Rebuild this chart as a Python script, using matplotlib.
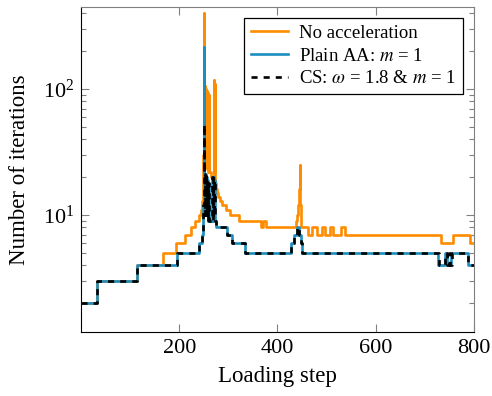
import numpy as np
import matplotlib
matplotlib.use("Agg")
import matplotlib.pyplot as plt
from matplotlib.ticker import LogLocator, NullFormatter, FixedLocator

# loading step at which the iteration count changes, and the new count (step function)
noacc_steps = [0, 32, 114, 166, 194, 212, 224, 232, 240, 244, 246, 248, 249, 250, 251,
               252, 253, 254, 255, 256, 257, 258, 259, 260, 261, 264, 268, 270, 271, 272,
               273, 275, 277, 279, 282, 287, 295, 304, 322, 366, 371, 376, 437, 440, 442,
               444, 445, 446, 447, 462, 470, 480, 490, 497, 507, 513, 530, 538, 732, 757,
               791, 800]
noacc_iters = [2, 3, 4, 5, 6, 7, 8, 9, 10, 11, 13, 18, 30, 400, 30,
               105, 25, 100, 24, 97, 23, 93, 22, 90, 22, 20, 19, 118, 22, 110,
               18, 16, 15, 14, 13, 12, 11, 10, 9, 8, 9, 8, 9, 10, 12,
               16, 25, 12, 8, 7, 8, 7, 8, 7, 8, 7, 8, 7, 6, 7,
               6, 6]

aa_steps = [0, 32, 114, 195, 241, 247, 248, 249, 250, 251, 252, 253, 254, 255, 256,
            257, 258, 259, 260, 267, 268, 269, 270, 271, 272, 274, 297, 307, 334, 428,
            434, 440, 444, 447, 450, 726, 740, 746, 754, 787, 800]
aa_iters = [2, 3, 4, 5, 6, 7, 8, 12, 215, 21, 10, 21, 10, 20, 10,
            19, 9, 18, 9, 20, 9, 20, 10, 19, 9, 8, 7, 6, 5, 6,
            7, 8, 7, 6, 5, 4, 5, 4, 5, 4, 4]

cs_steps = [0, 32, 114, 195, 241, 247, 248, 249, 250, 251, 252, 253, 254, 255, 256,
            257, 258, 259, 260, 267, 268, 269, 270, 271, 272, 274, 297, 307, 334, 428,
            434, 440, 444, 447, 450, 728, 742, 745, 750, 752, 756, 787, 800]
cs_iters = [2, 3, 4, 5, 6, 7, 8, 12, 53, 21, 10, 21, 10, 20, 10,
            19, 9, 18, 9, 20, 9, 20, 10, 19, 9, 8, 7, 6, 5, 6,
            7, 8, 7, 6, 5, 4, 5, 4, 5, 4, 5, 4, 4]

plt.rcParams['font.family'] = ['Liberation Serif', 'DejaVu Serif']
plt.rcParams['mathtext.fontset'] = 'stix'

fig = plt.figure(figsize=(4.92, 3.96), dpi=100)
ax = fig.add_axes([0.1646, 0.1616, 0.7988, 0.8207])

lw = 1.9
ax.step(noacc_steps, noacc_iters, where='post', color='#ff8c00', lw=lw, label='No acceleration')
ax.step(aa_steps, aa_iters, where='post', color='#1b8ebf', lw=lw, label=r'Plain AA: $m$ = 1')
ax.step(cs_steps, cs_iters, where='post', color='black', lw=lw, linestyle=(0, (2.3, 2.3)),
        label=r'CS: $\omega$ = 1.8 & $m$ = 1')

ax.set_yscale('log')
ax.set_xlim(0, 800)
ax.set_ylim(1.18, 447)

ax.xaxis.set_major_locator(FixedLocator([200, 400, 600, 800]))
ax.yaxis.set_major_locator(LogLocator(base=10))
ax.yaxis.set_minor_locator(LogLocator(base=10, subs=np.arange(2, 10)))
ax.yaxis.set_minor_formatter(NullFormatter())

ax.tick_params(which='both', direction='in', top=True, right=True, color='#808080', width=0.8)
ax.tick_params(which='major', length=5.5, labelsize=16, pad=5)
ax.tick_params(which='minor', length=3.5)

for side in ['top', 'right']:
    ax.spines[side].set_color('#808080')
for side in ['left', 'bottom']:
    ax.spines[side].set_color('black')

ax.set_xlabel('Loading step', fontsize=16.5, labelpad=6)
ax.set_ylabel('Number of iterations', fontsize=16.5, labelpad=9)

leg = ax.legend(loc='upper right', fontsize=13.5, frameon=True, fancybox=False,
                edgecolor='black', framealpha=1, handlelength=2.0, borderaxespad=0.6,
                borderpad=0.35, labelspacing=0.3, handletextpad=0.6)
leg.get_frame().set_linewidth(0.9)

fig.savefig('out.png', dpi=100)
